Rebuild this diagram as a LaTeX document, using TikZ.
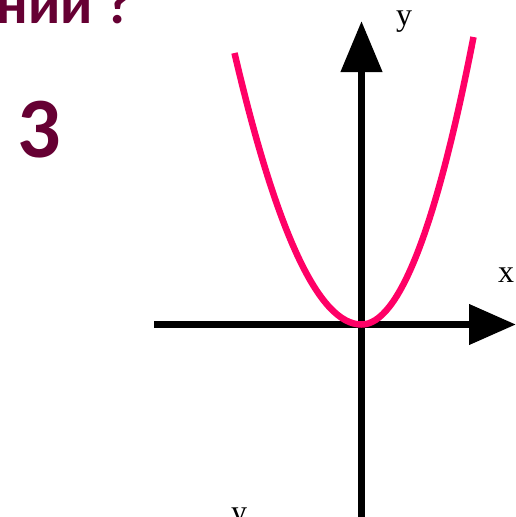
\documentclass[tikz,border=0pt]{standalone}
\usepackage{fontspec}
\setmainfont{Liberation Serif}
\newfontfamily\headfont{Carlito}
\usetikzlibrary{arrows.meta}

\definecolor{plum}{HTML}{660033}
\definecolor{curvepink}{HTML}{FF0066}

\tikzset{
  axis/.style={line width=7.5pt},
  graph/.style={line width=6.5pt,curvepink},
  lbl/.style={font=\fontsize{32}{32}\selectfont,inner sep=0pt},
  heading/.style={font=\headfont\bfseries,text=plum,inner sep=0pt}
}

\begin{document}
\begin{tikzpicture}[x=1pt,y=-1pt]

\useasboundingbox (0,0) rectangle (516,517);

% ===== Axes =====
\coordinate (xstart) at (154,324.5);
\coordinate (xend) at (516,324.5);
\coordinate (ystart) at (361.5,530);
\coordinate (yend) at (361.5,21);

\draw[axis,-{Triangle[length=47pt,width=39pt]}] (xstart) -- (xend);
\draw[axis,-{Triangle[length=51pt,width=40pt]}] (ystart) -- (yend);

% ===== Parabola =====
\coordinate (pleft) at (234.5,53);
\coordinate (vertex) at (361.5,324.5);
\coordinate (pright) at (473.5,37);

\draw[graph] (pleft) .. controls (276.8,234) and (319.2,324.5) .. (vertex)
  .. controls (398.8,324.5) and (436.2,228.7) .. (pright);

% ===== Labels =====
\node[lbl,anchor=base] (ylabel) at (404,25) {y};
\node[lbl,anchor=base] (xlabel) at (506,282) {x};
\node[lbl,anchor=base] (ylow) at (239,522.5) {y};

% ===== Heading =====
\node[heading,font=\headfont\bfseries\fontsize{58}{58}\selectfont,anchor=base east] (title) at (133,23) {ний ?};
\node[heading,font=\headfont\bfseries\fontsize{86}{86}\selectfont,anchor=base] (number) at (39.5,157) {3};

\end{tikzpicture}
\end{document}
